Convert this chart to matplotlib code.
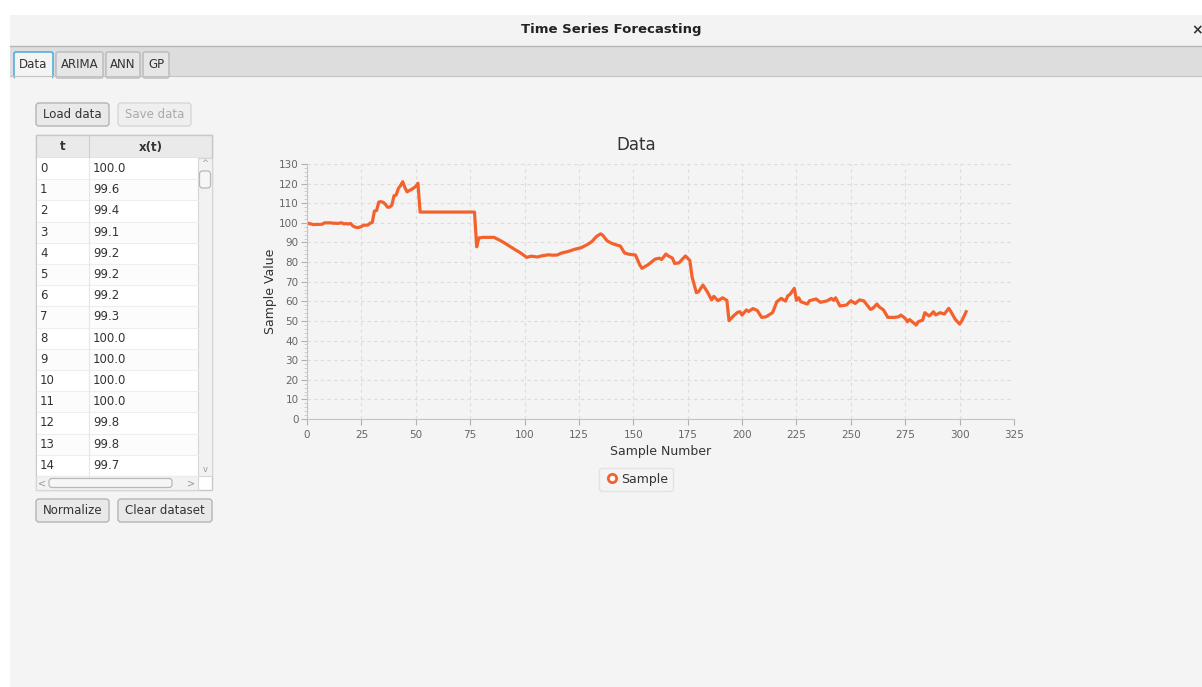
import matplotlib
matplotlib.use("Agg")
import matplotlib.pyplot as plt
from matplotlib.patches import Rectangle, FancyBboxPatch
from matplotlib.lines import Line2D
from matplotlib.ticker import MultipleLocator

# table rows shown on the left
table_t = list(range(15))
table_x = [100.0, 99.6, 99.4, 99.1, 99.2, 99.2, 99.2, 99.3,
           100.0, 100.0, 100.0, 100.0, 99.8, 99.8, 99.7]

# series (sample number, value)
sample_t = table_t + [
    16, 17, 18, 19, 20, 21, 22, 23, 24, 25, 26, 27, 28, 29, 30,
    31, 32, 33, 34, 35, 36, 37, 38, 39, 40, 41, 42, 43, 44, 45,
    46, 47, 48, 49, 50, 51, 52, 77, 78, 79, 81, 86, 89, 91, 93,
    96, 98, 100, 101, 103, 106, 108, 111, 113, 115, 117, 120, 123, 126, 129,
    131, 133, 135, 136, 138, 140, 142, 144, 146, 148, 151, 153, 154, 157, 160,
    162, 163, 165, 166, 168, 169, 171, 173, 174, 176, 177, 179, 180, 182, 184,
    186, 187, 189, 191, 193, 194, 196, 198, 199, 200, 202, 203, 205, 207, 209,
    211, 214, 216, 218, 220, 221, 222, 224, 225, 226, 227, 230, 231, 234, 236,
    239, 241, 242, 243, 245, 248, 250, 252, 254, 256, 259, 260, 262, 263, 265,
    267, 270, 272, 273, 275, 276, 277, 280, 281, 283, 284, 286, 287, 288, 289,
    291, 293, 295, 296, 298, 300, 301, 303]
sample_x = table_x + [
    100.0, 99.5, 99.6, 99.4, 99.7, 98.5, 97.9, 97.6, 97.7, 98.1, 98.8, 98.8, 98.9, 99.8, 100.2,
    106.0, 106.3, 110.6, 110.8, 110.5, 109.5, 108.0, 108.0, 109.0, 113.8, 114.2, 117.5, 119.0, 121.0, 118.0,
    115.8, 116.5, 117.0, 117.8, 118.5, 120.2, 105.5, 105.5, 87.8, 92.3, 92.6, 92.6, 90.9, 89.6, 88.2,
    86.1, 84.8, 83.2, 82.4, 83.0, 82.6, 83.2, 83.7, 83.5, 83.6, 84.6, 85.4, 86.5, 87.3, 89.0,
    90.5, 93.0, 94.4, 93.6, 90.8, 89.6, 88.8, 88.2, 84.6, 84.0, 83.6, 78.5, 76.8, 78.8, 81.5,
    82.0, 81.3, 84.1, 83.2, 82.0, 79.3, 79.6, 82.0, 83.1, 80.8, 72.5, 64.4, 64.9, 68.3, 64.9,
    60.7, 62.5, 60.3, 61.8, 60.5, 50.1, 52.5, 54.4, 54.7, 53.0, 55.6, 54.8, 56.3, 55.3, 51.8,
    52.1, 54.2, 59.8, 61.5, 60.1, 62.8, 63.5, 66.6, 60.5, 61.8, 59.8, 58.6, 60.3, 61.2, 59.5,
    60.2, 61.5, 60.5, 61.8, 57.6, 58.1, 60.3, 58.9, 60.7, 60.2, 55.9, 56.3, 58.6, 57.2, 55.6,
    51.8, 51.8, 52.1, 53.0, 51.3, 49.6, 50.7, 47.9, 49.6, 50.4, 54.2, 52.5, 53.5, 54.7, 53.0,
    54.2, 53.5, 56.4, 54.7, 50.8, 48.4, 50.0, 54.7]

tabs = ["Data", "ARIMA", "ANN", "GP"]
tab_edges = [(14, 53), (56, 103), (106, 140), (143, 169)]

W, H = 1202, 687
BG = "#f4f4f4"
ORANGE = "#f3622d"

fig = plt.figure(figsize=(W / 100, H / 100), dpi=100, facecolor="white")

# whole-window overlay in pixel coordinates
ui = fig.add_axes([0, 0, 1, 1])
ui.set_xlim(0, W)
ui.set_ylim(H, 0)
ui.axis("off")

# window frame
ui.add_patch(Rectangle((10, 15), W - 10, H - 15, facecolor=BG, edgecolor="none"))
ui.add_patch(Rectangle((10, 15), W - 10, 31, facecolor="#f3f3f3", edgecolor="none"))
ui.add_patch(Rectangle((10, 46), W - 10, 30, facecolor="#dddddd", edgecolor="none"))
ui.plot([10, W], [46, 46], color="#b8b8b8", lw=1)
ui.plot([10, W], [76, 76], color="#c4c4c4", lw=0.8)
ui.text(611, 30, "Time Series Forecasting", ha="center", va="center",
        fontsize=9.5, fontweight="bold", color="#222222")
ui.text(1197, 30, "\u00d7", ha="center", va="center", fontsize=10,
        fontweight="bold", color="#333333")

# tabs
for name, (x0, x1) in zip(tabs, tab_edges):
    sel = name == "Data"
    ui.add_patch(FancyBboxPatch((x0, 52), x1 - x0, 26,
                                boxstyle="round,pad=0,rounding_size=2",
                                facecolor=BG if sel else "#e6e6e6",
                                edgecolor="#3aa3d8" if sel else "#b9b9b9",
                                lw=1.0))
    ui.text((x0 + x1) / 2, 64.5, name, ha="center", va="center",
            fontsize=8.5, color="#333333")
ui.add_patch(Rectangle((15, 76), 37, 3, facecolor=BG, edgecolor="none"))


def button(x0, x1, y0, y1, label, enabled=True):
    ui.add_patch(FancyBboxPatch((x0, y0), x1 - x0, y1 - y0,
                                boxstyle="round,pad=0,rounding_size=3",
                                facecolor="#e9e9e9" if enabled else "#efefef",
                                edgecolor="#b4b4b4" if enabled else "#d6d6d6",
                                lw=1.0))
    ui.text((x0 + x1) / 2, (y0 + y1) / 2 + 0.5, label, ha="center", va="center",
            fontsize=8.5, color="#333333" if enabled else "#aaaaaa")


button(36, 109, 103, 126, "Load data")
button(118, 191, 103, 126, "Save data", enabled=False)
button(36, 109, 499, 522, "Normalize")
button(118, 212, 499, 522, "Clear dataset")

# table
ui.add_patch(Rectangle((36, 135), 176, 355, facecolor="white", edgecolor="#c8c8c8", lw=1))
ui.add_patch(Rectangle((36, 135), 176, 23, facecolor="#eaeaea", edgecolor="#c8c8c8", lw=1))
ui.plot([89, 89], [135, 158], color="#d0d0d0", lw=0.8)
ui.text(63, 147, "t", ha="center", va="center", fontsize=8.5, fontweight="bold", color="#333333")
ui.text(151, 147, "x(t)", ha="center", va="center", fontsize=8.5, fontweight="bold", color="#333333")
row_h = 21.2
for i, (t, v) in enumerate(zip(table_t, table_x)):
    y0 = 158 + i * row_h
    y1 = min(y0 + row_h, 476)
    ui.add_patch(Rectangle((37, y0), 161, y1 - y0,
                           facecolor="white" if i % 2 == 0 else "#fcfcfc", edgecolor="none"))
    ui.plot([37, 198], [y1, y1], color="#eeeeee", lw=0.8)
    ui.text(40, y0 + 10.6, str(t), ha="left", va="center", fontsize=8.5, color="#333333")
    ui.text(93, y0 + 10.6, f"{v:.1f}", ha="left", va="center", fontsize=8.5, color="#333333")
ui.plot([89, 89], [158, 476], color="#e6e6e6", lw=0.8)

# scroll bars
ui.add_patch(Rectangle((198, 158), 14, 318, facecolor="#f2f2f2", edgecolor="#d6d6d6", lw=0.8))
ui.add_patch(FancyBboxPatch((199.5, 171), 11, 17, boxstyle="round,pad=0,rounding_size=3",
                            facecolor="#f6f6f6", edgecolor="#b8b8b8", lw=0.9))
ui.text(205, 163, "^", ha="center", va="center", fontsize=6, color="#999999")
ui.text(205, 469, "v", ha="center", va="center", fontsize=6, color="#999999")
ui.add_patch(Rectangle((36, 476), 162, 14, facecolor="#f2f2f2", edgecolor="#d6d6d6", lw=0.8))
ui.add_patch(FancyBboxPatch((49, 478.5), 123, 9, boxstyle="round,pad=0,rounding_size=3",
                            facecolor="#f6f6f6", edgecolor="#b8b8b8", lw=0.9))
ui.text(42, 483, "<", ha="center", va="center", fontsize=7, color="#999999")
ui.text(191, 483, ">", ha="center", va="center", fontsize=7, color="#999999")

# chart
ax = fig.add_axes([307 / W, 1 - 419 / H, 707 / W, 255 / H])
ax.set_facecolor("none")
ax.plot(sample_t, sample_x, color=ORANGE, lw=2.3, solid_joinstyle="round")
ax.set_xlim(0, 325)
ax.set_ylim(0, 130)
ax.xaxis.set_major_locator(MultipleLocator(25))
ax.yaxis.set_major_locator(MultipleLocator(10))
ax.yaxis.set_minor_locator(MultipleLocator(2))
ax.grid(True, which="major", color="#dcdcdc", ls=(0, (3, 3)), lw=0.8)
for s in ["top", "right"]:
    ax.spines[s].set_visible(False)
for s in ["left", "bottom"]:
    ax.spines[s].set_color("#c4c4c4")
ax.tick_params(axis="both", which="major", direction="out", length=4,
               color="#b0b0b0", labelsize=7.5, labelcolor="#666666")
ax.tick_params(axis="x", pad=4)
ax.tick_params(axis="y", pad=2)
ax.tick_params(axis="y", which="minor", length=2.5, color="#c8c8c8")
ax.set_xlabel("Sample Number", fontsize=9, color="#333333")
ax.set_ylabel("Sample Value", fontsize=9, color="#333333")
ax.xaxis.set_label_coords(0.5, -0.103)
ax.yaxis.set_label_coords(-0.043, 0.5)
fig.text(636 / W, 1 - 145 / H, "Data", ha="center", va="center", fontsize=12, color="#333333")

proxy = Line2D([], [], ls="none", marker="o", markersize=6, markerfacecolor="white",
               markeredgecolor=ORANGE, markeredgewidth=2)
leg = ax.legend([proxy], ["Sample"], loc="center", bbox_to_anchor=(636 / W, 1 - 479 / H),
                bbox_transform=fig.transFigure, fontsize=9, frameon=True, fancybox=True,
                handletextpad=0.1, borderpad=0.4, handlelength=1.2)
leg.get_frame().set_facecolor(BG)
leg.get_frame().set_edgecolor("#dedede")
for txt in leg.get_texts():
    txt.set_color("#333333")

fig.savefig("out.png", dpi=100, facecolor="white")
